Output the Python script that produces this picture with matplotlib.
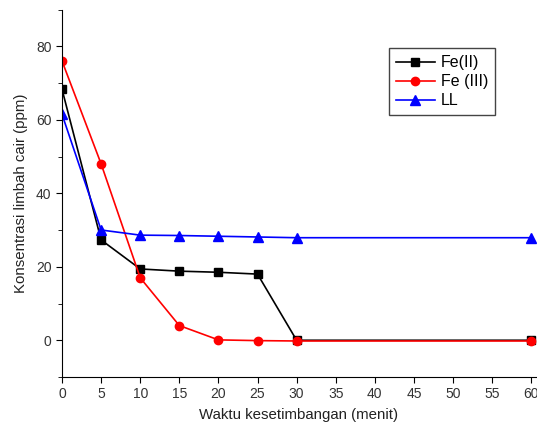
import matplotlib
matplotlib.use('Agg')
import matplotlib.pyplot as plt
from matplotlib.ticker import MultipleLocator

plt.rcParams['font.family'] = ['Liberation Sans', 'DejaVu Sans']

# data
waktu = [0, 5, 10, 15, 20, 25, 30, 60]
fe2 = [68.3, 27.3, 19.4, 18.8, 18.5, 18.0, 0.0, 0.0]
fe3 = [76.0, 48.0, 17.0, 4.0, 0.1, -0.1, -0.2, -0.2]
ll = [61.5, 30.0, 28.6, 28.5, 28.3, 28.1, 27.9, 27.9]
xticks = [0, 5, 10, 15, 20, 25, 30, 35, 40, 45, 50, 55, 60]

fig = plt.figure(figsize=(5.37, 4.3), dpi=100)
ax = fig.add_axes([62/537, 1-377/430, 1-62/537-0.002, (377-9.5)/430])

ax.plot(waktu, fe2, color='black', marker='s', markersize=5.5, lw=1.2, label='Fe(II)')
ax.plot(waktu, fe3, color='red', marker='o', markersize=6, lw=1.2, label='Fe (III)')
ax.plot(waktu, ll, color='blue', marker='^', markersize=6.5, lw=1.2, label='LL')

ax.set_xlim(0, 60.6)
ax.set_ylim(-10, 90)
ax.set_xticks(xticks)
ax.yaxis.set_major_locator(MultipleLocator(20))
ax.yaxis.set_minor_locator(MultipleLocator(10))
ax.spines['top'].set_visible(False)
ax.spines['right'].set_visible(False)
ax.tick_params(direction='out', labelsize=10, length=4, labelcolor='#333333')
ax.tick_params(which='minor', direction='out', length=3)

ax.set_xlabel('Waktu kesetimbangan (menit)', fontsize=10.8, labelpad=5, color='#222222')
ax.set_ylabel('Konsentrasi limbah cair (ppm)', fontsize=10.8, labelpad=6, color='#222222')

leg = ax.legend(loc='upper left', bbox_to_anchor=(389/537, 1-48/430),
                bbox_transform=fig.transFigure, borderaxespad=0, fontsize=11.5,
                fancybox=False, framealpha=1, edgecolor='#444444', borderpad=0.45,
                labelspacing=0.25, handlelength=2.4, handletextpad=0.4)
leg.get_frame().set_linewidth(1.0)

fig.savefig('out.png', dpi=100)
